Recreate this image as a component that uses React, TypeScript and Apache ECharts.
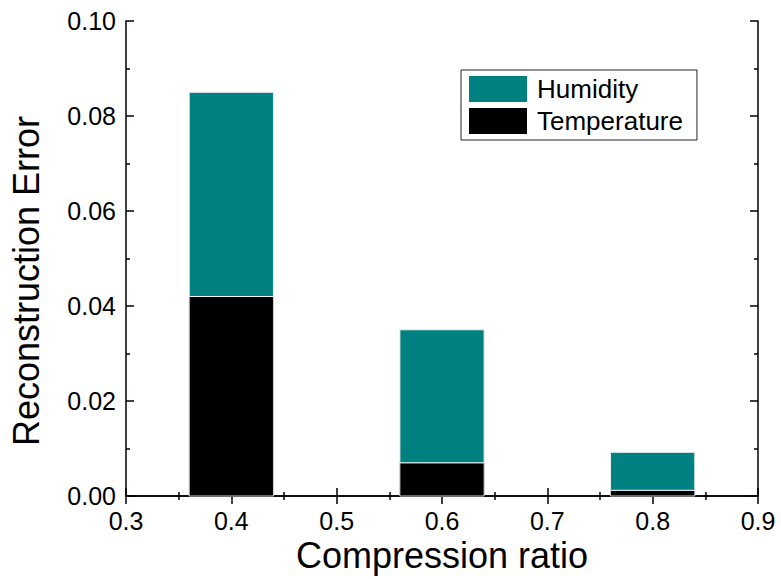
import React, { useEffect, useRef } from "react";
import * as echarts from "echarts";

const ratios = [0.4, 0.6, 0.8];
const temperature = [0.042, 0.007, 0.0012];
const humidity = [0.043, 0.028, 0.008];
const seriesNames = ["Humidity", "Temperature"];
const xTitle = "Compression ratio";
const yTitle = "Reconstruction Error";
const barSpan = 0.08;

const FONT = "'Liberation Sans', Arial, sans-serif";

export default function App() {
  const ref = useRef<HTMLDivElement>(null);
  useEffect(() => {
    if (!ref.current) return;
    const chart = echarts.init(ref.current, undefined, { renderer: "svg" });
    const axisLine = { show: true, lineStyle: { color: "#000", width: 1.5 } };
    const axisTick = { show: true, inside: true, length: 8, lineStyle: { color: "#000", width: 1.5 } };
    const minorTick = { show: true, splitNumber: 2, length: 4, lineStyle: { color: "#000", width: 1.5 } };

    const tempData = ratios.map((r, i) => [r, 0, temperature[i]]);
    const humData = ratios.map((r, i) => [r, temperature[i], temperature[i] + humidity[i]]);

    const makeRender = (fill: string, stroke: string) => (params: any, api: any) => {
      const x = api.value(0);
      const lo = api.coord([x - barSpan / 2, api.value(1)]);
      const hi = api.coord([x + barSpan / 2, api.value(2)]);
      return {
        type: "rect",
        shape: { x: lo[0], y: hi[1], width: hi[0] - lo[0], height: lo[1] - hi[1] },
        style: { fill, stroke, lineWidth: 1 },
      };
    };

    chart.setOption({
      animation: false,
      backgroundColor: "#fff",
      grid: { left: 126, right: 23, top: 21, bottom: 83 },
      legend: {
        data: seriesNames.map((n) => ({ name: n, icon: "rect" })),
        orient: "vertical",
        left: 461,
        top: 70,
        itemWidth: 58,
        itemHeight: 26,
        itemGap: 6,
        padding: [6, 14, 6, 8],
        borderColor: "#222",
        borderWidth: 1,
        textStyle: { fontFamily: FONT, fontSize: 26, color: "#000", padding: [0, 0, 0, 5] },
      },
      graphic: [
        {
          type: "text",
          x: 26,
          y: 281,
          rotation: Math.PI / 2,
          style: {
            text: yTitle,
            fontFamily: FONT,
            fontSize: 36,
            fill: "#000",
            align: "center",
            verticalAlign: "middle",
          },
        },
      ],
      xAxis: [
        {
          type: "value",
          min: 0.3,
          max: 0.9,
          interval: 0.1,
          position: "bottom",
          axisLine,
          axisTick,
          minorTick,
          splitLine: { show: false },
          axisLabel: {
            fontFamily: FONT,
            fontSize: 25,
            color: "#000",
            margin: 12,
            formatter: (v: number) => v.toFixed(1),
          },
          name: xTitle,
          nameLocation: "middle",
          nameGap: 41,
          nameTextStyle: { fontFamily: FONT, fontSize: 36, color: "#000" },
        },
        {
          type: "value",
          min: 0.3,
          max: 0.9,
          interval: 0.1,
          position: "top",
          axisLine,
          axisTick,
          minorTick,
          splitLine: { show: false },
          axisLabel: { show: false },
        },
      ],
      yAxis: [
        {
          type: "value",
          min: 0,
          max: 0.1,
          interval: 0.02,
          position: "left",
          axisLine,
          axisTick,
          minorTick,
          splitLine: { show: false },
          axisLabel: {
            fontFamily: FONT,
            fontSize: 25,
            color: "#000",
            margin: 10,
            formatter: (v: number) => v.toFixed(2),
          },
        },
        {
          type: "value",
          min: 0,
          max: 0.1,
          interval: 0.02,
          position: "right",
          axisLine,
          axisTick,
          minorTick,
          splitLine: { show: false },
          axisLabel: { show: false },
        },
      ],
      series: [
        {
          name: "Temperature",
          type: "custom",
          xAxisIndex: 0,
          yAxisIndex: 0,
          encode: { x: 0, y: [1, 2] },
          data: tempData,
          itemStyle: { color: "#000000" },
          renderItem: makeRender("#000000", "#d0d0d0"),
        },
        {
          name: "Humidity",
          type: "custom",
          xAxisIndex: 0,
          yAxisIndex: 0,
          encode: { x: 0, y: [1, 2] },
          data: humData,
          itemStyle: { color: "#008080" },
          renderItem: makeRender("#008080", "#f2f2f2"),
        },
      ],
    });
    return () => chart.dispose();
  }, []);
  return (
    <div
      ref={ref}
      style={{ position: "fixed", left: 0, top: 0, width: 781, height: 579 }}
    />
  );
}
